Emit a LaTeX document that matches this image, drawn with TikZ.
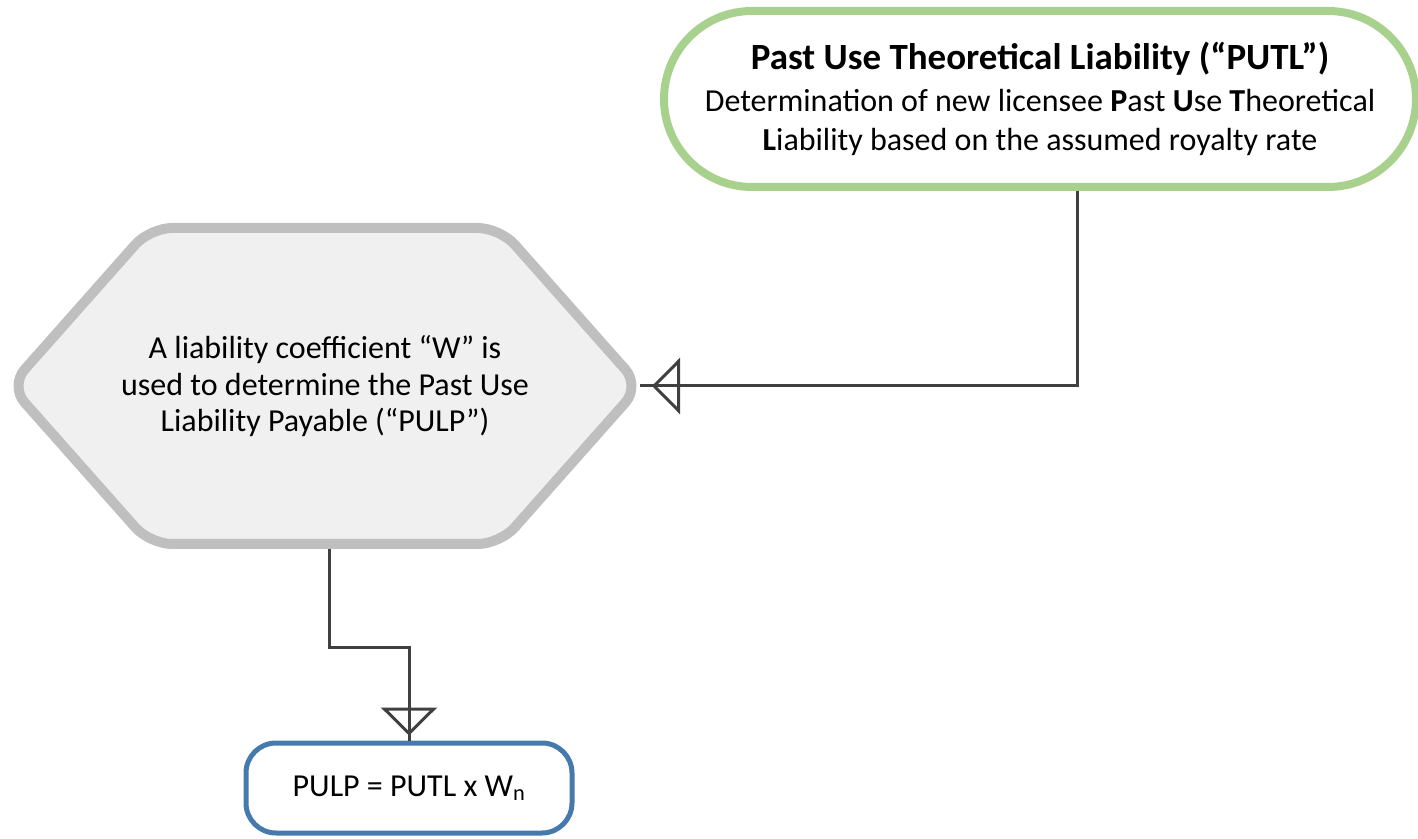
\documentclass[tikz,border=0pt]{standalone}
\usepackage{fontspec}
\setmainfont{Carlito}
\usetikzlibrary {arrows.meta, positioning, calc}
\usetikzlibrary {decorations.markings, backgrounds}
\definecolor{putlgreen}{RGB}{169,209,142}
\definecolor{hexgray}{RGB}{191,191,191}
\definecolor{hexfill}{RGB}{240,240,240}
\definecolor{pulpblue}{RGB}{70,122,172}
\definecolor{wire}{RGB}{64,64,64}
\tikzset{
    >={Triangle[open, length=28pt, width=56pt]},
    flow/.style={draw=wire, line width=3pt},
    tipmark/.style={postaction={decorate, decoration={markings,
        mark=at position -#1 with {\arrow{>}}}}},
    putlbox/.style={draw=putlgreen, line width=8pt, rounded corners=88pt,
        minimum width=752pt, minimum height=176pt, align=center,
        font=\fontsize{32}{37}\selectfont},
    hexbox/.style={minimum width=630pt, minimum height=316pt, outer sep=0pt,
        align=center, font=\fontsize{32}{36}\selectfont},
    hexline/.style={draw=hexgray, fill=hexfill, line width=10pt,
        rounded corners=22pt},
    pulpbox/.style={draw=pulpblue, line width=5pt, rounded corners=30pt,
        minimum width=326pt, minimum height=90pt,
        font=\fontsize{32}{36}\selectfont}
}
\begin{document}
\begin{tikzpicture}[x=1pt, y=1pt]
    \useasboundingbox (0, 0) rectangle (1418, 838);
    % boxes
    \node[putlbox] (putl) at (1040, 739) {{\fontsize{37}{43}\selectfont\textbf{Past Use Theoretical Liability (“PUTL”)}}\\[5pt]
        Determination of new licensee \textbf{P}ast \textbf{U}se \textbf{T}heoretical\\[2pt]
        \textbf{L}iability based on the assumed royalty rate};
    \node[hexbox] (hex) at (325, 452) {A liability coefficient “W” is\\[1pt]
        used to determine the Past Use\\
        Liability Payable (“PULP”)};
    \node[pulpbox] (pulp) at (409, 50) {PULP = PUTL x W\textsubscript{n}};
    % hexagon behind its text
    \begin{scope}[on background layer]
        \draw[hexline] (hex.north) -- ([xshift=-140pt]hex.north east) -- (hex.east)
            -- ([xshift=-140pt]hex.south east) -- ([xshift=140pt]hex.south west)
            -- (hex.west) -- ([xshift=140pt]hex.north west) -- cycle;
    \end{scope}
    % connectors
    \draw[flow, tipmark=12pt] ([xshift=37pt]putl.south) |- (hex.east);
    \draw[flow, tipmark=5pt] ([xshift=4pt, yshift=-5pt]hex.south) -- ++(0, -99) -| (pulp.north);
\end{tikzpicture}
\end{document}
